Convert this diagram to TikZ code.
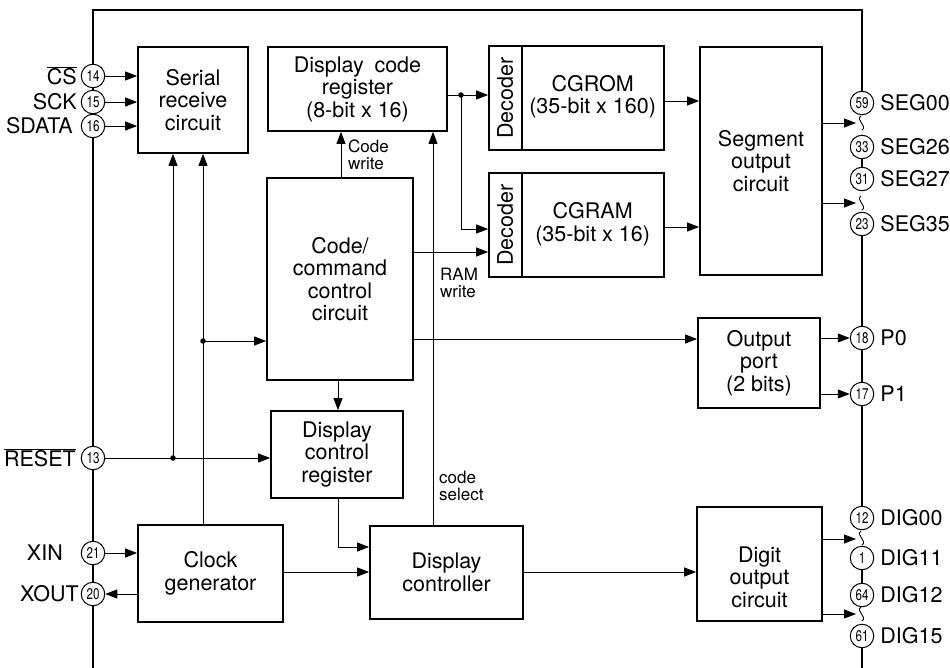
\documentclass[tikz,border=0pt]{standalone}
\usepackage{fontspec}
\setmainfont{TeX Gyre Heros}
\usetikzlibrary{arrows.meta}
\begin{document}
\begin{tikzpicture}[x=1pt,y=-1pt,
  box/.style={draw, line width=1.7pt, align=center, inner sep=0pt, font=\fontsize{21.5}{22.5}\selectfont},
  pin/.style={circle, draw, fill=white, line width=1pt, minimum size=23.5pt, inner sep=0pt, font=\fontsize{15.5}{15.5}\selectfont},
  chip/.style={line width=1.9pt},
  wire/.style={line width=0.9pt},
  arr/.style={wire, -{Triangle[length=12pt,width=9pt]}},
  lbl/.style={font=\fontsize{21.5}{22.5}\selectfont, inner sep=0pt},
  small/.style={font=\fontsize{17}{16.5}\selectfont, align=left, inner sep=0pt},
  dot/.style={circle, fill, inner sep=0pt, minimum size=5.5pt},
  squig/.style={line width=0.9pt},
]
\newcommand\pn[1]{\scalebox{0.75}[1]{#1}}
\useasboundingbox (0,0) rectangle (950,668);
% chip outline (left and top)
\draw[chip] (93,668) -- (93,10) -- (862,10) -- (862,60);

% blocks
\node[box, minimum width=110, minimum height=106] (serial) at (193,100) {Serial\\receive\\circuit};
\node[box, minimum width=179, minimum height=84] (dcr) at (357.5,89) {Display\hspace{0.5em}code\\register\\(8-bit x 16)};
\node[box, minimum width=175, minimum height=104] (cgrom) at (576.5,98) {};
\node[box, minimum width=175, minimum height=104] (cgram) at (576.5,225) {};
\node[box, minimum width=122, minimum height=228] (seg) at (761,161) {Segment\\output\\circuit};
\node[box, minimum width=146, minimum height=202] (ccc) at (340,279) {Code/\\command\\control\\circuit};
\node[box, minimum width=122, minimum height=90] (oport) at (759,363) {Output\\port\\(2 bits)};
\node[box, minimum width=132, minimum height=87] (dctlreg) at (337,454.5) {Display\\control\\register};
\node[box, minimum width=153, minimum height=93] (dctl) at (446.5,572.5) {Display\\controller};
\node[box, minimum width=145, minimum height=97] (clock) at (210.5,573.5) {Clock\\generator};
\node[box, minimum width=125, minimum height=114] (digit) at (759.5,564) {};
\node[lbl, align=center] (digittxt) at (759.5,577) {Digit\\output\\circuit};

% decoder sections
\draw[line width=1.7pt] ([xshift=34pt]cgrom.north west) -- ([xshift=34pt]cgrom.south west);
\draw[line width=1.7pt] ([xshift=34pt]cgram.north west) -- ([xshift=34pt]cgram.south west);
\node[lbl, rotate=90] (decA) at ([xshift=17pt]cgrom.west) {Decoder};
\node[lbl, rotate=90] (decB) at ([xshift=17pt]cgram.west) {Decoder};
\node[lbl, align=center] (romtxt) at ([xshift=104.5pt,yshift=1pt]cgrom.west) {CGROM\\(35-bit x 160)};
\node[lbl, align=center] (ramtxt) at ([xshift=104.5pt,yshift=1pt]cgram.west) {CGRAM\\(35-bit x 16)};

% left pins
\node[pin] (p14) at (93,76) {\pn{14}};
\node[pin] (p15) at (93,102) {\pn{15}};
\node[pin] (p16) at (93,126) {\pn{16}};
\node[pin] (p13) at (93,458) {\pn{13}};
\node[pin] (p21) at (93,553) {\pn{21}};
\node[pin] (p20) at (93,594) {\pn{20}};
\node[lbl, anchor=east] (lcs) at (77,76) {$\overline{\hbox{CS}}$};
\node[lbl, anchor=east] (lsck) at (77,102) {SCK};
\node[lbl, anchor=east] (lsda) at (73,126) {SDATA};
\node[lbl, anchor=east] (lres) at (76,458) {$\overline{\hbox{RESET}}$};
\node[lbl, anchor=east] (lxin) at (63,553) {XIN};
\node[lbl, anchor=east] (lxout) at (79,594) {XOUT};

% right pins
\node[pin] (s59) at (862,103) {\pn{59}};
\node[pin] (s33) at (862,147) {\pn{33}};
\node[pin] (s31) at (862,179) {\pn{31}};
\node[pin] (s23) at (862,224) {\pn{23}};
\node[pin] (s18) at (862,338) {\pn{18}};
\node[pin] (s17) at (862,394) {\pn{17}};
\node[pin] (s12) at (862,518) {\pn{12}};
\node[pin] (s1) at (862,558) {\pn{1}};
\node[pin] (s64) at (862,595) {\pn{64}};
\node[pin] (s61) at (862,636) {\pn{61}};
\foreach \n/\t in {s59/SEG00, s33/SEG26, s31/SEG27, s23/SEG35, s18/P0, s17/P1, s12/DIG00, s1/DIG11, s64/DIG12, s61/DIG15}
  \node[lbl, anchor=west] (t\n) at ([xshift=6pt]\n.east) {\t};

% right chip edge segments
\draw[chip] (862,58) -- (s59.north);
\draw[chip] (s33.south) -- (s31.north);
\draw[chip] (s23.south) -- (s18.north);
\draw[chip] (s18.south) -- (s17.north);
\draw[chip] (s17.south) -- (s12.north);
\draw[chip] (s1.south) -- (s64.north);
\draw[chip] (s61.south) -- (862,668);

% squiggles
\foreach \y in {123,203,538,614}
  \draw[squig] (861,\y-7) .. controls (855,\y-3) and (868,\y+3) .. (862,\y+7);

% helper coordinates
\coordinate (jr) at (173,458);
\coordinate (jc) at (203,341);
\coordinate (jd) at (461,95);
\coordinate (yram) at (0,229);
\coordinate (yrw) at (0,252);
\coordinate (yop) at (0,339);
\coordinate (ycw) at (341,0);
\coordinate (ycs) at (433,0);
\coordinate (yck) at (0,572);
\coordinate (kk) at (338,547);
\coordinate (yrom) at (0,101);
\coordinate (yram2) at (0,227);
\coordinate (e1) at (856,123);
\coordinate (e2) at (856,203);
\coordinate (e3) at (856,539);
\coordinate (e4) at (856,614);

% connectors: left pins
\draw[arr] (p14.east) -- (serial.west |- p14);
\draw[arr] (p15.east) -- (serial.west |- p15);
\draw[arr] (p16.east) -- (serial.west |- p16);
\draw[arr] (p13.east) -- (dctlreg.west |- p13);
\draw[arr] (jr) -- (jr |- serial.south);
\node[dot] (djr) at (jr) {};
\draw[arr] (jc |- clock.north) -- (jc |- serial.south);
\draw[arr] (jc) -- (ccc.west |- jc);
\node[dot] (djc) at (jc) {};
\draw[arr] (p21.east) -- (clock.west |- p21);
\draw[arr] (clock.west |- p20) -- (p20.east);

% internal
\draw[arr] (clock.east |- yck) -- (dctl.west |- yck);
\draw[arr] (kk |- dctlreg.south) |- (dctl.west |- kk);
\draw[arr] (kk |- ccc.south) -- (kk |- dctlreg.north);
\draw[arr] (ycw |- ccc.north) -- (ycw |- dcr.south);
\draw[arr] (ycs |- dctl.north) -- (ycs |- dcr.south);
\draw[arr] (ccc.east |- yrw) -- (cgram.west |- yrw);
\draw[arr] (ccc.east |- yop) -- (oport.west |- yop);
\draw[arr] (dcr.east |- jd) -- (cgrom.west |- jd);
\draw[arr] (jd) |- (cgram.west |- yram);
\node[dot] (djd) at (jd) {};
\draw[arr] (cgrom.east |- yrom) -- (seg.west |- yrom);
\draw[arr] (cgram.east |- yram2) -- (seg.west |- yram2);
\draw[arr] (dctl.east |- yck) -- (digit.west |- yck);

% outputs
\draw[arr] (seg.east |- e1) -- (e1);
\draw[arr] (seg.east |- e2) -- (e2);
\draw[arr] (oport.east |- s18) -- (s18.west);
\draw[arr] (oport.east |- s17) -- (s17.west);
\draw[arr] (digit.east |- e3) -- (e3);
\draw[arr] (digit.east |- e4) -- (e4);

% small labels
\node[small, anchor=west] (lcw) at (348,155) {Code\\write};
\node[small, anchor=west] (lrw) at (440,283) {RAM\\write};
\node[small, anchor=west] (lcsel) at (439,486) {code\\select};
\end{tikzpicture}
\end{document}
